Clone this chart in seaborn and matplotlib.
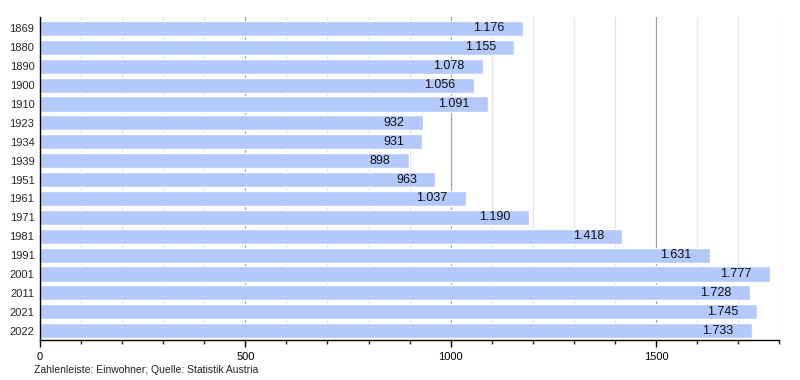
import pandas as pd
import matplotlib.pyplot as plt
import seaborn as sns
from matplotlib.ticker import MultipleLocator

# Einwohner pro Jahr
years = ["1869", "1880", "1890", "1900", "1910", "1923", "1934", "1939", "1951",
         "1961", "1971", "1981", "1991", "2001", "2011", "2021", "2022"]
population = [1176, 1155, 1078, 1056, 1091, 932, 931, 898, 963,
              1037, 1190, 1418, 1631, 1777, 1728, 1745, 1733]

df = pd.DataFrame({"Jahr": years, "Einwohner": population})

sns.set_style("white")
plt.rcParams["font.family"] = ["Liberation Sans", "DejaVu Sans"]

fig = plt.figure(figsize=(8, 3.8), dpi=100)
ax = fig.add_axes([0.05, 0.105, 0.924, 0.85])

sns.barplot(data=df, x="Einwohner", y="Jahr", color="#b3c9fb", saturation=1,
            width=0.8, orient="h", ax=ax, zorder=2)

# labels inside the bar end
for i, v in enumerate(population):
    label = f"{v:,}".replace(",", ".")
    ax.text(v - 45, i, label, ha="right", va="center", fontsize=9,
            color="#111111", zorder=3)

ax.set_xlim(0, 1800)
ax.set_ylim(len(years) - 0.5, -0.6)
ax.xaxis.set_major_locator(MultipleLocator(500))
ax.xaxis.set_minor_locator(MultipleLocator(100))
ax.grid(axis="x", which="major", color="#a0a0a0", linewidth=0.9, zorder=0)
ax.grid(axis="x", which="minor", color="#e4e4e4", linewidth=0.9, zorder=0)
ax.set_axisbelow(True)

for s in ["top", "right"]:
    ax.spines[s].set_visible(False)
ax.spines["left"].set_color("black")
ax.spines["bottom"].set_color("black")
ax.spines["left"].set_linewidth(1)
ax.spines["bottom"].set_linewidth(1)

ax.tick_params(axis="x", which="major", direction="out", length=5, width=1,
               labelsize=8, colors="black", bottom=True)
ax.tick_params(axis="x", which="minor", direction="out", length=3, width=1,
               bottom=True)
ax.tick_params(axis="y", length=0, labelsize=8, pad=4)
ax.set_xlabel("")
ax.set_ylabel("")

fig.text(0.043, 0.018, "Zahlenleiste: Einwohner; Quelle: Statistik Austria",
         fontsize=7.5, color="#222222")

plt.savefig("out.png", dpi=100)
